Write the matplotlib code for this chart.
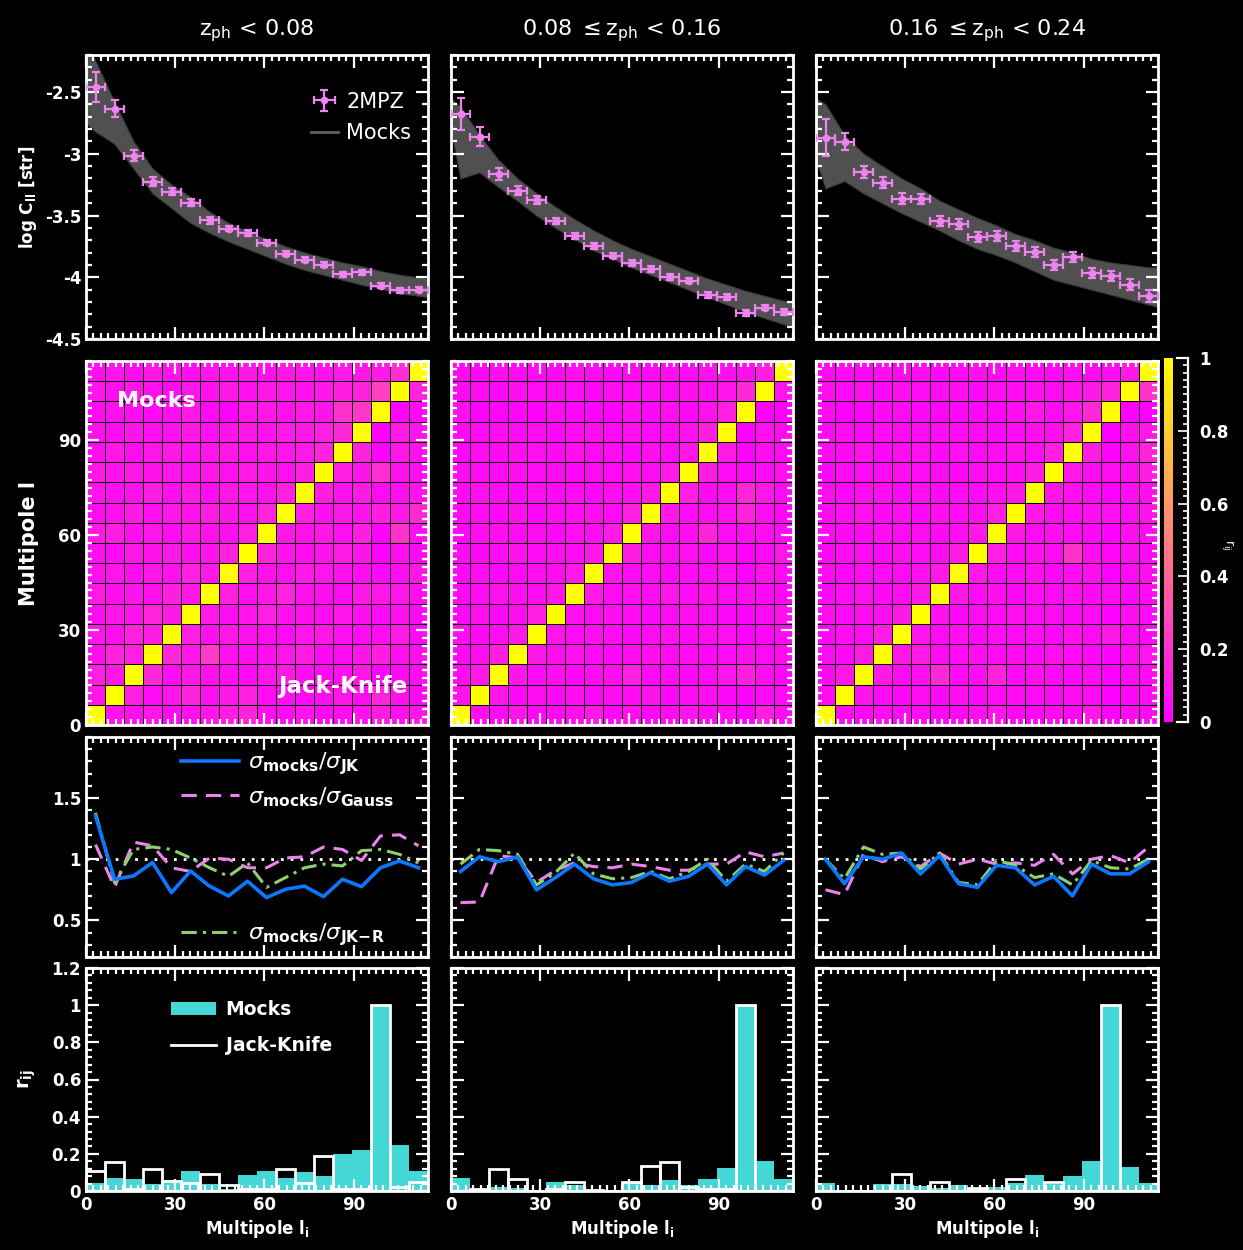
import numpy as np
import matplotlib
matplotlib.use("Agg")
import matplotlib.pyplot as plt
from matplotlib.ticker import MultipleLocator, FixedLocator, FuncFormatter
from matplotlib.lines import Line2D
from matplotlib.patches import Patch

plt.rcParams["axes.unicode_minus"] = False
plt.rcParams["font.family"] = ["DejaVu Sans"]
plt.rcParams["mathtext.default"] = "regular"

# ---------------------------------------------------------------- binning
ELL_MIN, ELL_MAX, N_BINS = 0.0, 115.0, 18
edges = np.linspace(ELL_MIN, ELL_MAX, N_BINS + 1)
centres = 0.5 * (edges[:-1] + edges[1:])
half_width = 0.5 * (edges[1] - edges[0])

titles = [r"z$_{\mathrm{ph}}$ < 0.08",
          r"0.08 $\leq$z$_{\mathrm{ph}}$ < 0.16",
          r"0.16 $\leq$z$_{\mathrm{ph}}$ < 0.24"]

# ---------------------------------------------------------------- angular power spectra (log C_ll)
cl_z1 = [-2.46, -2.634, -3.016, -3.226, -3.306, -3.395, -3.54, -3.607, -3.64,
         -3.72, -3.81, -3.857, -3.90, -3.975, -3.96, -4.07, -4.105, -4.10]
cl_err_z1 = [0.12, 0.07, 0.045, 0.035, 0.03, 0.025, 0.025, 0.022, 0.022,
             0.02, 0.02, 0.02, 0.02, 0.02, 0.02, 0.02, 0.02, 0.02]
cl_z2 = [-2.675, -2.863, -3.164, -3.298, -3.374, -3.543, -3.664, -3.75, -3.825,
         -3.884, -3.933, -3.997, -4.027, -4.142, -4.159, -4.288, -4.247, -4.28]
cl_err_z2 = [0.13, 0.077, 0.045, 0.035, 0.03, 0.025, 0.025, 0.025, 0.022,
             0.022, 0.022, 0.022, 0.022, 0.022, 0.022, 0.022, 0.022, 0.022]
cl_z3 = [-2.871, -2.903, -3.15, -3.234, -3.363, -3.363, -3.543, -3.567, -3.677,
         -3.669, -3.745, -3.796, -3.903, -3.836, -3.965, -3.987, -4.059, -4.153]
cl_err_z3 = [0.15, 0.07, 0.05, 0.045, 0.045, 0.04, 0.04, 0.04, 0.04,
             0.04, 0.04, 0.04, 0.04, 0.04, 0.04, 0.04, 0.045, 0.05]

# envelope of the mock spectra, sampled at l = 0, bin centres, l = 115
mock_hi_z1 = [-2.10, -2.25, -2.58, -2.90, -3.12, -3.25, -3.35, -3.47, -3.56, -3.63,
              -3.69, -3.75, -3.80, -3.84, -3.88, -3.91, -3.95, -3.98, -4.00, -4.01]
mock_lo_z1 = [-2.75, -2.82, -2.92, -3.12, -3.32, -3.44, -3.56, -3.64, -3.71, -3.77,
              -3.83, -3.89, -3.94, -3.98, -4.02, -4.06, -4.09, -4.13, -4.15, -4.16]
mock_hi_z2 = [-2.55, -2.62, -2.85, -3.05, -3.20, -3.32, -3.43, -3.53, -3.62, -3.70,
              -3.77, -3.83, -3.89, -3.95, -4.01, -4.06, -4.11, -4.15, -4.19, -4.20]
mock_lo_z2 = [-2.80, -3.20, -3.15, -3.27, -3.38, -3.50, -3.60, -3.69, -3.78, -3.85,
              -3.92, -3.98, -4.04, -4.10, -4.16, -4.22, -4.28, -4.33, -4.38, -4.40]
mock_hi_z3 = [-2.55, -2.60, -2.85, -3.00, -3.10, -3.20, -3.28, -3.38, -3.45, -3.52,
              -3.58, -3.65, -3.70, -3.76, -3.80, -3.85, -3.88, -3.90, -3.92, -3.92]
mock_lo_z3 = [-3.05, -3.28, -3.22, -3.32, -3.40, -3.48, -3.55, -3.62, -3.70, -3.77,
              -3.82, -3.88, -3.95, -4.02, -4.06, -4.10, -4.14, -4.18, -4.22, -4.24]

# ---------------------------------------------------------------- correlation matrices (percent)
# row = l_j bin (bottom to top), column = l_i bin; upper-left: mocks, lower-right: jack-knife
corr_z1 = [
    [100, 8, 6, 10, 5, 7, 9, 12, 14, 6, 5, 8, 4, 6, 7, 11, 6, 9],
    [9, 100, 12, 4, 8, 14, 6, 10, 12, 5, 7, 4, 6, 9, 5, 15, 7, 5],
    [12, 10, 100, 16, 5, 9, 7, 6, 4, 8, 10, 6, 5, 7, 9, 1, 4, 6],
    [6, 14, 12, 100, 15, 8, 22, 7, 5, 6, 9, 11, 4, 5, 8, 12, 6, 7],
    [8, 6, 13, 11, 100, 12, 6, 9, 7, 5, 4, 8, 9, 6, 5, 5, 10, 4],
    [5, 9, 7, 14, 10, 100, 10, 5, 8, 12, 7, 6, 5, 8, 6, 4, 7, 5],
    [10, 6, 8, 6, 12, 9, 100, 13, 6, 9, 14, 7, 6, 5, 9, 9, 8, 6],
    [7, 8, 5, 9, 7, 12, 10, 100, 12, 7, 6, 10, 8, 7, 6, 3, 5, 9],
    [6, 5, 9, 7, 10, 6, 8, 14, 100, 14, 8, 5, 7, 10, 8, 1, 6, 4],
    [9, 11, 6, 8, 5, 9, 7, 6, 12, 100, 10, 7, 9, 6, 12, 1, 20, 6],
    [5, 7, 10, 6, 9, 7, 11, 8, 6, 15, 100, 12, 6, 9, 7, 12, 10, 16],
    [8, 6, 7, 11, 6, 10, 5, 9, 8, 7, 13, 100, 11, 7, 10, 4, 6, 8],
    [10, 8, 9, 7, 8, 6, 9, 7, 10, 8, 6, 12, 100, 12, 8, 19, 7, 6],
    [6, 9, 5, 8, 10, 7, 8, 10, 6, 9, 8, 10, 14, 100, 14, 1, 9, 7],
    [7, 5, 8, 6, 7, 9, 6, 8, 9, 7, 10, 9, 12, 16, 100, 1, 10, 8],
    [5, 7, 6, 4, 6, 10, 4, 1, 8, 10, 7, 10, 8, 20, 22, 100, 2, 5],
    [8, 6, 9, 7, 5, 8, 7, 9, 6, 10, 8, 7, 9, 11, 13, 25, 100, 14],
    [6, 8, 5, 9, 7, 6, 8, 7, 9, 6, 9, 8, 7, 10, 9, 10, 18, 100],
]
corr_z2 = [
    [100, 6, 4, 8, 3, 5, 7, 10, 4, 6, 3, 5, 8, 4, 6, 0, 12, 5],
    [8, 100, 9, 3, 5, 4, 6, 3, 5, 4, 8, 3, 4, 6, 3, 1, 5, 4],
    [5, 10, 100, 8, 4, 6, 3, 5, 6, 12, 4, 5, 3, 4, 8, 12, 6, 3],
    [4, 5, 12, 100, 9, 5, 7, 4, 3, 5, 6, 4, 5, 3, 4, 6, 4, 5],
    [6, 3, 5, 10, 100, 8, 4, 6, 5, 3, 4, 7, 3, 5, 6, 0, 3, 4],
    [3, 6, 4, 5, 12, 100, 7, 4, 6, 5, 3, 4, 6, 4, 3, 1, 5, 6],
    [5, 4, 7, 6, 5, 9, 100, 10, 4, 6, 5, 8, 4, 6, 5, 5, 4, 3],
    [4, 5, 3, 4, 6, 5, 10, 100, 8, 4, 5, 3, 5, 4, 6, 1, 7, 4],
    [6, 3, 5, 7, 4, 6, 4, 9, 100, 11, 4, 5, 6, 3, 5, 0, 4, 8],
    [3, 5, 6, 4, 5, 3, 6, 5, 10, 100, 9, 4, 5, 14, 4, 5, 6, 4],
    [5, 4, 3, 6, 3, 5, 4, 6, 4, 12, 100, 10, 4, 5, 6, 14, 5, 3],
    [4, 6, 5, 3, 6, 4, 5, 3, 6, 5, 9, 100, 12, 4, 5, 15, 9, 4],
    [6, 4, 5, 6, 4, 5, 3, 5, 4, 6, 5, 10, 100, 11, 4, 2, 5, 6],
    [3, 5, 4, 5, 6, 4, 6, 4, 5, 3, 6, 4, 9, 100, 10, 1, 6, 4],
    [5, 4, 6, 4, 5, 3, 5, 6, 4, 6, 4, 5, 6, 12, 100, 1, 7, 5],
    [7, 1, 2, 2, 0, 5, 3, 1, 0, 5, 3, 6, 3, 7, 12, 100, 0, 0],
    [4, 5, 3, 6, 4, 5, 4, 3, 6, 4, 5, 4, 6, 5, 8, 16, 100, 8],
    [5, 3, 6, 4, 5, 4, 6, 5, 3, 5, 4, 6, 4, 7, 6, 6, 12, 100],
]
corr_z3 = [
    [100, 5, 3, 6, 4, 5, 3, 4, 6, 8, 4, 3, 5, 4, 10, 0, 5, 4],
    [6, 100, 8, 4, 3, 5, 4, 6, 3, 4, 5, 4, 3, 5, 4, 0, 3, 6],
    [4, 9, 100, 10, 4, 6, 16, 4, 5, 14, 4, 6, 4, 3, 5, 0, 4, 5],
    [5, 4, 10, 100, 9, 10, 5, 4, 6, 4, 5, 3, 6, 4, 3, 0, 5, 8],
    [3, 6, 4, 11, 100, 8, 4, 6, 3, 5, 4, 5, 3, 6, 4, 9, 4, 3],
    [6, 4, 5, 6, 10, 100, 7, 3, 5, 4, 6, 4, 5, 3, 5, 0, 6, 4],
    [4, 5, 6, 4, 5, 9, 100, 9, 4, 6, 3, 5, 4, 6, 4, 5, 3, 5],
    [5, 3, 4, 5, 4, 6, 10, 100, 10, 4, 5, 6, 3, 5, 6, 0, 4, 6],
    [3, 6, 5, 3, 6, 4, 5, 11, 100, 12, 4, 6, 4, 20, 5, 2, 5, 4],
    [5, 4, 3, 6, 4, 5, 4, 5, 10, 100, 9, 4, 6, 4, 3, 0, 6, 5],
    [4, 5, 6, 4, 5, 3, 6, 4, 5, 12, 100, 10, 5, 4, 6, 6, 4, 8],
    [6, 3, 5, 6, 3, 6, 4, 5, 4, 6, 9, 100, 9, 6, 4, 0, 5, 6],
    [3, 5, 4, 5, 6, 4, 5, 3, 6, 4, 5, 11, 100, 10, 5, 5, 6, 12],
    [5, 4, 6, 3, 5, 6, 3, 6, 4, 5, 6, 4, 12, 100, 11, 0, 7, 14],
    [4, 6, 3, 5, 4, 5, 6, 4, 5, 3, 4, 6, 5, 13, 100, 0, 6, 10],
    [5, 0, 0, 4, 4, 3, 2, 3, 2, 2, 5, 9, 4, 8, 16, 100, 0, 0],
    [6, 4, 5, 3, 6, 4, 5, 6, 3, 5, 4, 6, 5, 7, 9, 13, 100, 20],
    [4, 5, 3, 6, 4, 5, 3, 4, 6, 4, 6, 5, 4, 6, 5, 5, 10, 100],
]

# ---------------------------------------------------------------- error ratios
ratio_jk_z1 = [1.355, 0.836, 0.863, 0.973, 0.727, 0.904, 0.78, 0.70, 0.82,
               0.686, 0.754, 0.78, 0.694, 0.836, 0.776, 0.93, 0.986, 0.93]
ratio_gauss_z1 = [1.12, 0.77, 1.14, 1.11, 0.93, 0.90, 1.01, 1.00, 0.93,
                  0.93, 1.01, 1.02, 1.10, 1.08, 0.99, 1.19, 1.20, 1.11]
ratio_jkr_z1 = [1.38, 0.81, 1.08, 1.10, 1.08, 1.01, 0.93, 0.86, 0.97,
                0.77, 0.85, 0.93, 0.96, 0.945, 1.07, 1.08, 1.04, 0.97]
ratio_jk_z2 = [0.90, 1.02, 0.98, 1.02, 0.75, 0.85, 0.96, 0.84, 0.79,
               0.81, 0.89, 0.82, 0.86, 0.96, 0.79, 0.94, 0.87, 0.99]
ratio_gauss_z2 = [0.645, 0.65, 1.03, 1.01, 0.81, 0.91, 0.97, 0.94, 0.93,
                  0.96, 0.94, 0.91, 0.91, 0.96, 0.96, 1.06, 1.02, 1.05]
ratio_jkr_z2 = [0.96, 1.08, 1.07, 1.04, 0.79, 0.89, 1.05, 0.88, 0.84,
                0.85, 0.90, 0.84, 0.90, 1.00, 0.82, 0.96, 0.90, 1.05]
ratio_jk_z3 = [1.00, 0.80, 1.02, 1.00, 1.05, 0.88, 1.03, 0.80, 0.77,
               0.95, 0.93, 0.79, 0.86, 0.70, 0.96, 0.88, 0.88, 0.98]
ratio_gauss_z3 = [0.75, 0.71, 1.04, 0.98, 1.02, 0.94, 1.05, 0.96, 1.00,
                  0.96, 0.97, 0.95, 1.04, 0.88, 1.00, 1.03, 0.97, 1.10]
ratio_jkr_z3 = [1.00, 0.84, 1.10, 1.04, 1.05, 0.92, 1.05, 0.81, 0.79,
                0.99, 0.95, 0.85, 0.88, 0.79, 0.99, 0.93, 0.92, 1.00]

# ---------------------------------------------------------------- r_ij for l_j in bin 16
rij_mocks_z1 = [0.045, 0.07, 0.063, 0.04, 0.06, 0.105, 0.04, 0.01, 0.085,
                0.105, 0.07, 0.10, 0.08, 0.20, 0.22, 1.0, 0.25, 0.105]
rij_jk_z1 = [0.11, 0.155, 0.01, 0.12, 0.055, 0.045, 0.09, 0.03, 0.01,
             0.01, 0.12, 0.045, 0.19, 0.01, 0.01, 1.0, 0.02, 0.05]
rij_mocks_z2 = [0.07, 0.013, 0.02, 0.018, 0.0, 0.05, 0.03, 0.007, 0.0,
                0.05, 0.03, 0.06, 0.03, 0.067, 0.123, 1.0, 0.163, 0.063]
rij_jk_z2 = [0.0, 0.01, 0.118, 0.063, 0.0, 0.012, 0.05, 0.005, 0.0,
             0.05, 0.136, 0.154, 0.022, 0.012, 0.01, 1.0, 0.0, 0.0]
rij_mocks_z3 = [0.045, 0.0, 0.0, 0.036, 0.036, 0.027, 0.018, 0.033, 0.018,
                0.022, 0.045, 0.087, 0.04, 0.08, 0.16, 1.0, 0.127, 0.045]
rij_jk_z3 = [0.0, 0.0, 0.0, 0.0, 0.09, 0.0, 0.05, 0.0, 0.018,
             0.0, 0.063, 0.0, 0.05, 0.0, 0.0, 1.0, 0.0, 0.0]

cl_sets = [(cl_z1, cl_err_z1, mock_hi_z1, mock_lo_z1),
           (cl_z2, cl_err_z2, mock_hi_z2, mock_lo_z2),
           (cl_z3, cl_err_z3, mock_hi_z3, mock_lo_z3)]
corr_sets = [corr_z1, corr_z2, corr_z3]
ratio_sets = [(ratio_jk_z1, ratio_gauss_z1, ratio_jkr_z1),
              (ratio_jk_z2, ratio_gauss_z2, ratio_jkr_z2),
              (ratio_jk_z3, ratio_gauss_z3, ratio_jkr_z3)]
rij_sets = [(rij_mocks_z1, rij_jk_z1), (rij_mocks_z2, rij_jk_z2), (rij_mocks_z3, rij_jk_z3)]

band_ell = np.r_[ELL_MIN, centres, ELL_MAX]

# ---------------------------------------------------------------- styling
PINK = "#ee82ee"
BLUE = "#0a78ff"
GREEN = "#8fd16a"
CYAN = "#45d6d6"
BAND = "#505050"
FG = "white"

W, H = 1243, 1250
fig = plt.figure(figsize=(W / 100, H / 100), dpi=100, facecolor="black")


def add_ax(left, top, width, height):
    ax = fig.add_axes([left / W, 1 - (top + height) / H, width / W, height / H])
    ax.set_facecolor("black")
    for sp in ax.spines.values():
        sp.set_color(FG)
        sp.set_linewidth(2.0)
    ax.tick_params(which="both", direction="in", top=True, right=True,
                   colors=FG, labelcolor=FG, width=1.6, labelsize=12)
    ax.tick_params(which="major", length=9)
    ax.tick_params(which="minor", length=4.5)
    return ax


fmt = FuncFormatter(lambda v, p: "%g" % v)


def style_ticks(ax, ymaj, ymin_, show_x, show_y, xminor=2.5):
    ax.xaxis.set_major_locator(MultipleLocator(30))
    ax.xaxis.set_minor_locator(MultipleLocator(xminor))
    if isinstance(ymaj, (list, tuple)):
        ax.yaxis.set_major_locator(FixedLocator(ymaj))
    else:
        ax.yaxis.set_major_locator(MultipleLocator(ymaj))
    ax.yaxis.set_minor_locator(MultipleLocator(ymin_))
    ax.xaxis.set_major_formatter(fmt)
    ax.yaxis.set_major_formatter(fmt)
    ax.tick_params(labelbottom=show_x, labelleft=show_y)
    for lab in ax.get_xticklabels() + ax.get_yticklabels():
        lab.set_fontweight("bold")


col_left = [86, 451, 816]
PW = 342
rows = {"cl": (55, 284), "corr": (361, 364), "ratio": (737, 220), "rij": (968, 223)}

for c in range(3):
    x0 = col_left[c]

    # ---- power spectra
    cl, err, hi, lo = cl_sets[c]
    ax = add_ax(x0, rows["cl"][0], PW, rows["cl"][1])
    ax.fill_between(band_ell, lo, hi, color=BAND, lw=0.8, edgecolor="#3a3a3a", zorder=1)
    eb = ax.errorbar(centres, cl, xerr=half_width, yerr=err, fmt="o", ms=4.5,
                     color=PINK, ecolor=PINK, elinewidth=1.6, capsize=3, capthick=1.6, zorder=3)
    ax.set_xlim(ELL_MIN, ELL_MAX)
    ax.set_ylim(-4.5, -2.2)
    style_ticks(ax, 0.5, 0.1, False, c == 0)
    ax.set_title(titles[c], color=FG, fontsize=16, pad=14)
    if c == 0:
        ax.set_ylabel(r"log C$_{\mathbf{ll}}$ [str]", color=FG, fontsize=12,
                      fontweight="bold", labelpad=4)
        ax.legend([eb, Line2D([], [], color="#606060", lw=2)], ["2MPZ", "Mocks"],
                  loc="upper right", bbox_to_anchor=(1.0, 0.93), frameon=False,
                  fontsize=15, labelcolor=FG, handlelength=1.3, borderaxespad=0.4,
                  handletextpad=0.4, labelspacing=0.55)

    # ---- correlation matrix
    ax = add_ax(x0, rows["corr"][0], PW, rows["corr"][1])
    mat = np.array(corr_sets[c], dtype=float) / 100.0
    ax.pcolormesh(edges, edges, mat, cmap="spring", vmin=0, vmax=1,
                  edgecolors="black", linewidth=0.45)
    ax.set_xlim(ELL_MIN, ELL_MAX)
    ax.set_ylim(ELL_MIN, ELL_MAX)
    style_ticks(ax, 30, 2.5, False, c == 0)
    if c == 0:
        ax.set_ylabel("Multipole l", color=FG, fontsize=15, fontweight="bold", labelpad=14)
        ax.text(0.09, 0.89, "Mocks", transform=ax.transAxes, color=FG,
                fontsize=16, fontweight="bold", ha="left", va="center")
        ax.text(0.94, 0.105, "Jack-Knife", transform=ax.transAxes, color=FG,
                fontsize=16.5, fontweight="bold", ha="right", va="center")

    # ---- error ratios
    r_jk, r_g, r_jkr = ratio_sets[c]
    ax = add_ax(x0, rows["ratio"][0], PW, rows["ratio"][1])
    ax.axhline(1.0, color=FG, ls=(0, (1, 2.5)), lw=2, zorder=1)
    l1, = ax.plot(centres, r_jk, color=BLUE, lw=2.6, zorder=3)
    l2, = ax.plot(centres, r_g, color=PINK, lw=2.2, ls=(0, (5, 3)), zorder=2)
    l3, = ax.plot(centres, r_jkr, color=GREEN, lw=2.2, ls=(0, (5, 2, 1, 2)), zorder=2)
    ax.set_xlim(ELL_MIN, ELL_MAX)
    ax.set_ylim(0.2, 2.0)
    style_ticks(ax, [0.5, 1.0, 1.5], 0.1, False, c == 0)
    if c == 0:
        lab_jk = r"$\mathit{\sigma}_{\mathbf{mocks}}/\mathit{\sigma}_{\mathbf{JK}}$"
        lab_g = r"$\mathit{\sigma}_{\mathbf{mocks}}/\mathit{\sigma}_{\mathbf{Gauss}}$"
        lab_r = r"$\mathit{\sigma}_{\mathbf{mocks}}/\mathit{\sigma}_{\mathbf{JK{-}R}}$"
        lg1 = ax.legend([l1, l2], [lab_jk, lab_g], loc="upper left",
                        bbox_to_anchor=(0.24, 1.0), frameon=False, fontsize=16,
                        labelcolor=FG, handlelength=2.6, handletextpad=0.4,
                        labelspacing=0.35, borderaxespad=0.2)
        ax.add_artist(lg1)
        ax.legend([l3], [lab_r], loc="lower left", bbox_to_anchor=(0.24, -0.02),
                  frameon=False, fontsize=16, labelcolor=FG, handlelength=2.6,
                  handletextpad=0.4, borderaxespad=0.2)

    # ---- r_ij profile
    r_m, r_j = rij_sets[c]
    ax = add_ax(x0, rows["rij"][0], PW, rows["rij"][1])
    ax.bar(centres, r_m, width=2 * half_width, color=CYAN, lw=0, zorder=1)
    ax.bar(centres, r_j, width=2 * half_width, fill=False, edgecolor=FG, lw=2, zorder=2)
    ax.set_xlim(ELL_MIN, ELL_MAX)
    ax.set_ylim(0, 1.2)
    style_ticks(ax, 0.2, 0.04, True, c == 0)
    ax.set_xlabel(r"Multipole l$_{\mathbf{i}}$", color=FG, fontsize=12,
                  fontweight="bold", labelpad=3)
    if c == 0:
        ax.set_ylabel(r"r$_{\mathbf{ij}}$", color=FG, fontsize=14,
                      fontweight="bold", labelpad=10)
        ax.legend([Patch(facecolor=CYAN), Line2D([], [], color=FG, lw=2)],
                  ["Mocks", "Jack-Knife"], loc="upper left", bbox_to_anchor=(0.2, 0.93),
                  frameon=False, labelcolor=FG, handlelength=2.4,
                  handletextpad=0.5, labelspacing=0.9,
                  prop={"size": 13.5, "weight": "bold"})

# ---------------------------------------------------------------- colour bar
cax = fig.add_axes([1164 / W, 1 - (358 + 364) / H, 24 / W, 364 / H])
cax.set_facecolor("black")
grad = np.linspace(0, 1, 256).reshape(-1, 1)
cax.imshow(grad, extent=[0, 0.36, 0, 1], aspect="auto", cmap="spring",
           origin="lower", vmin=0, vmax=1)
cax.set_xlim(0, 1)
cax.set_ylim(0, 1)
for name, sp in cax.spines.items():
    sp.set_visible(name == "right")
    sp.set_color(FG)
    sp.set_linewidth(1.6)
cax.plot([0.55, 1.0], [0, 0], color=FG, lw=1.6, clip_on=False)
cax.plot([0.55, 1.0], [1, 1], color=FG, lw=1.6, clip_on=False)
cax.set_xticks([])
cax.yaxis.set_major_locator(MultipleLocator(0.2))
cax.yaxis.set_minor_locator(MultipleLocator(0.02))
cax.yaxis.set_major_formatter(fmt)
cax.tick_params(axis="y", which="both", direction="in", left=False, right=True,
                labelleft=False, labelright=True, colors=FG, labelcolor=FG,
                width=1.2, labelsize=12, pad=8)
cax.tick_params(axis="y", which="major", length=7)
cax.tick_params(axis="y", which="minor", length=3.5)
for lab in cax.get_yticklabels():
    lab.set_fontweight("bold")
fig.text(1228 / W, 1 - 545 / H, r"r$_{ij}$", color=FG, fontsize=9,
         rotation=270, ha="center", va="center")

fig.savefig("out.png", dpi=100, facecolor="black")
